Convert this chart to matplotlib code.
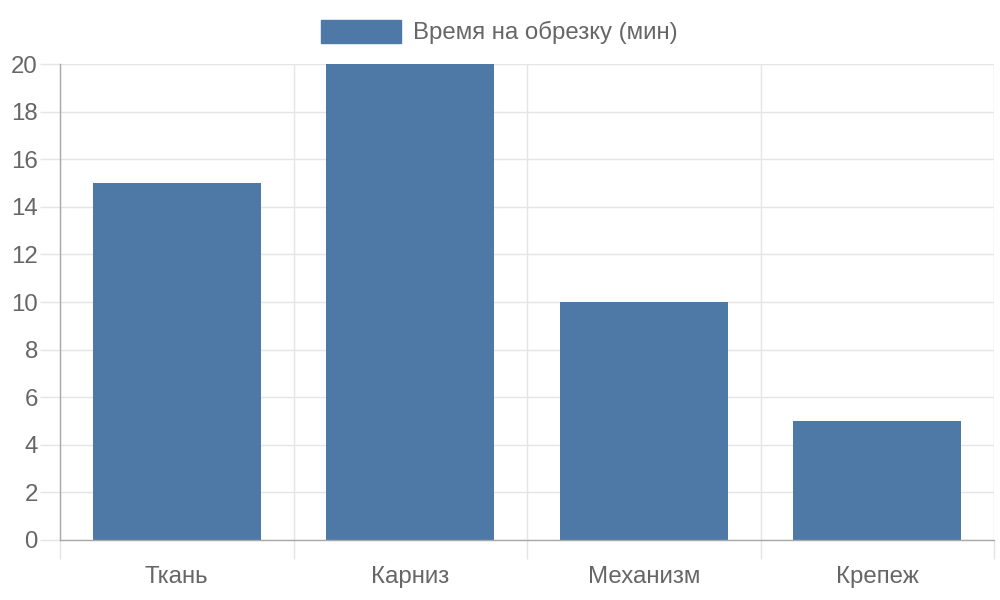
import matplotlib
matplotlib.use("Agg")
import matplotlib.pyplot as plt
from matplotlib.patches import Rectangle
import numpy as np

categories = ["Ткань", "Карниз", "Механизм", "Крепеж"]
values = [15, 20, 10, 5]
series_name = "Время на обрезку (мин)"
y_ticks = list(range(0, 21, 2))

BAR = "#4e79a7"
TXT = "#666666"
GRID = "#e5e5e5"
AXIS = "#a8a8a8"
FS = 17.3

plt.rcParams["font.family"] = ["Liberation Sans", "DejaVu Sans"]

fig = plt.figure(figsize=(10, 6), dpi=100)
ax = fig.add_axes([0.06, 0.1, 0.934, 0.7933])

x = np.arange(len(categories))
ax.bar(x, values, width=0.72, color=BAR, zorder=3)

ax.set_xlim(-0.5, len(categories) - 0.5)
ax.set_ylim(0, 20)

# category boundaries: gridlines + long ticks, labels on minor ticks at centres
ax.set_xticks(np.arange(-0.5, len(categories), 1.0))
ax.set_xticklabels([])
ax.set_xticks(x, minor=True)
ax.set_xticklabels(categories, minor=True)
ax.tick_params(axis="x", which="major", length=13.5, width=1, color=GRID)
ax.tick_params(axis="x", which="minor", length=0, pad=19, labelsize=FS, labelcolor=TXT)

ax.set_yticks(y_ticks)
ax.tick_params(axis="y", length=14.4, width=1, color=GRID, pad=1.5,
               labelsize=FS, labelcolor=TXT)

ax.grid(True, which="major", color=GRID, linewidth=1, zorder=0)
ax.set_axisbelow(True)

for s in ["top", "right"]:
    ax.spines[s].set_visible(False)
for s in ["left", "bottom"]:
    ax.spines[s].set_color(AXIS)
    ax.spines[s].set_linewidth(1)
    ax.spines[s].set_zorder(4)

# legend drawn like the original: coloured box + text, centred at the top
fig.patches.append(Rectangle((0.321, 1 - 43 / 600), 0.080, 23 / 600,
                             transform=fig.transFigure, color=BAR))
fig.text(0.413, 1 - 32 / 600, series_name, ha="left", va="center",
         fontsize=FS, color=TXT)

fig.savefig("out.png", dpi=100)
